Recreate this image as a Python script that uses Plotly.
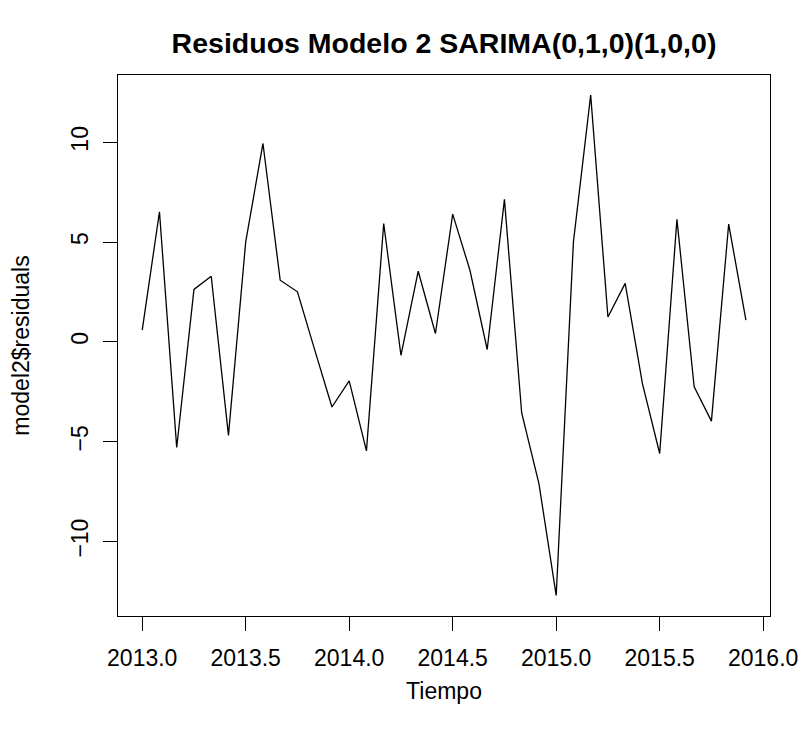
import plotly.graph_objects as go

# monthly residuals, Jan 2013 - Dec 2015
years = [2013 + i / 12 for i in range(36)]
residuals = [0.59, 6.52, -5.29, 2.63, 3.29, -4.68, 5.01, 9.94, 3.09, 2.51, -0.40, -3.26,
             -1.95, -5.46, 5.93, -0.67, 3.54, 0.42, 6.40, 3.59, -0.38, 7.14, -3.56, -7.10,
             -12.70, 5.01, 12.37, 1.25, 2.93, -2.09, -5.59, 6.14, -2.25, -3.97, 5.90, 1.09]

x_ticks = [2013.0, 2013.5, 2014.0, 2014.5, 2015.0, 2015.5, 2016.0]
y_ticks = [-10, -5, 0, 5, 10]

fig = go.Figure()
fig.add_trace(go.Scatter(x=years, y=residuals, mode="lines",
                         line=dict(color="black", width=1.3), showlegend=False))

W, H = 802, 731
font = "Liberation Sans, Arial, sans-serif"
fig.update_layout(
    width=W, height=H,
    margin=dict(l=118, r=32, t=75, b=115),
    paper_bgcolor="white", plot_bgcolor="white",
    font=dict(family=font, size=23, color="black"),
    title=dict(text="<b>Residuos Modelo 2 SARIMA(0,1,0)(1,0,0)</b>",
               x=444 / W, xanchor="center", y=1 - 43 / H, yanchor="middle",
               font=dict(size=28.5)),
)
fig.update_xaxes(
    range=[2012.883, 2016.033], tickvals=x_ticks, tickformat=".1f", automargin=False,
    showline=True, mirror=True, linecolor="black", linewidth=1.2,
    ticks="outside", ticklen=14, tickcolor="black", tickwidth=1.2, ticklabelstandoff=7,
    showgrid=False, zeroline=False,
    title=dict(text="Tiempo", standoff=13, font=dict(size=23)),
)
fig.update_yaxes(
    range=[-13.73, 13.37], tickvals=y_ticks, tickangle=-90, automargin=False,
    showline=True, mirror=True, linecolor="black", linewidth=1.2,
    ticks="outside", ticklen=14, tickcolor="black", tickwidth=1.2, ticklabelstandoff=6,
    showgrid=False, zeroline=False,
    title=dict(text="model2$residuals", standoff=30, font=dict(size=23)),
)

# drop the default page margin so the figure fills the window exactly
fig.write_html("out.html", config={"displayModeBar": False},
               post_script="document.body.style.margin='0';")
